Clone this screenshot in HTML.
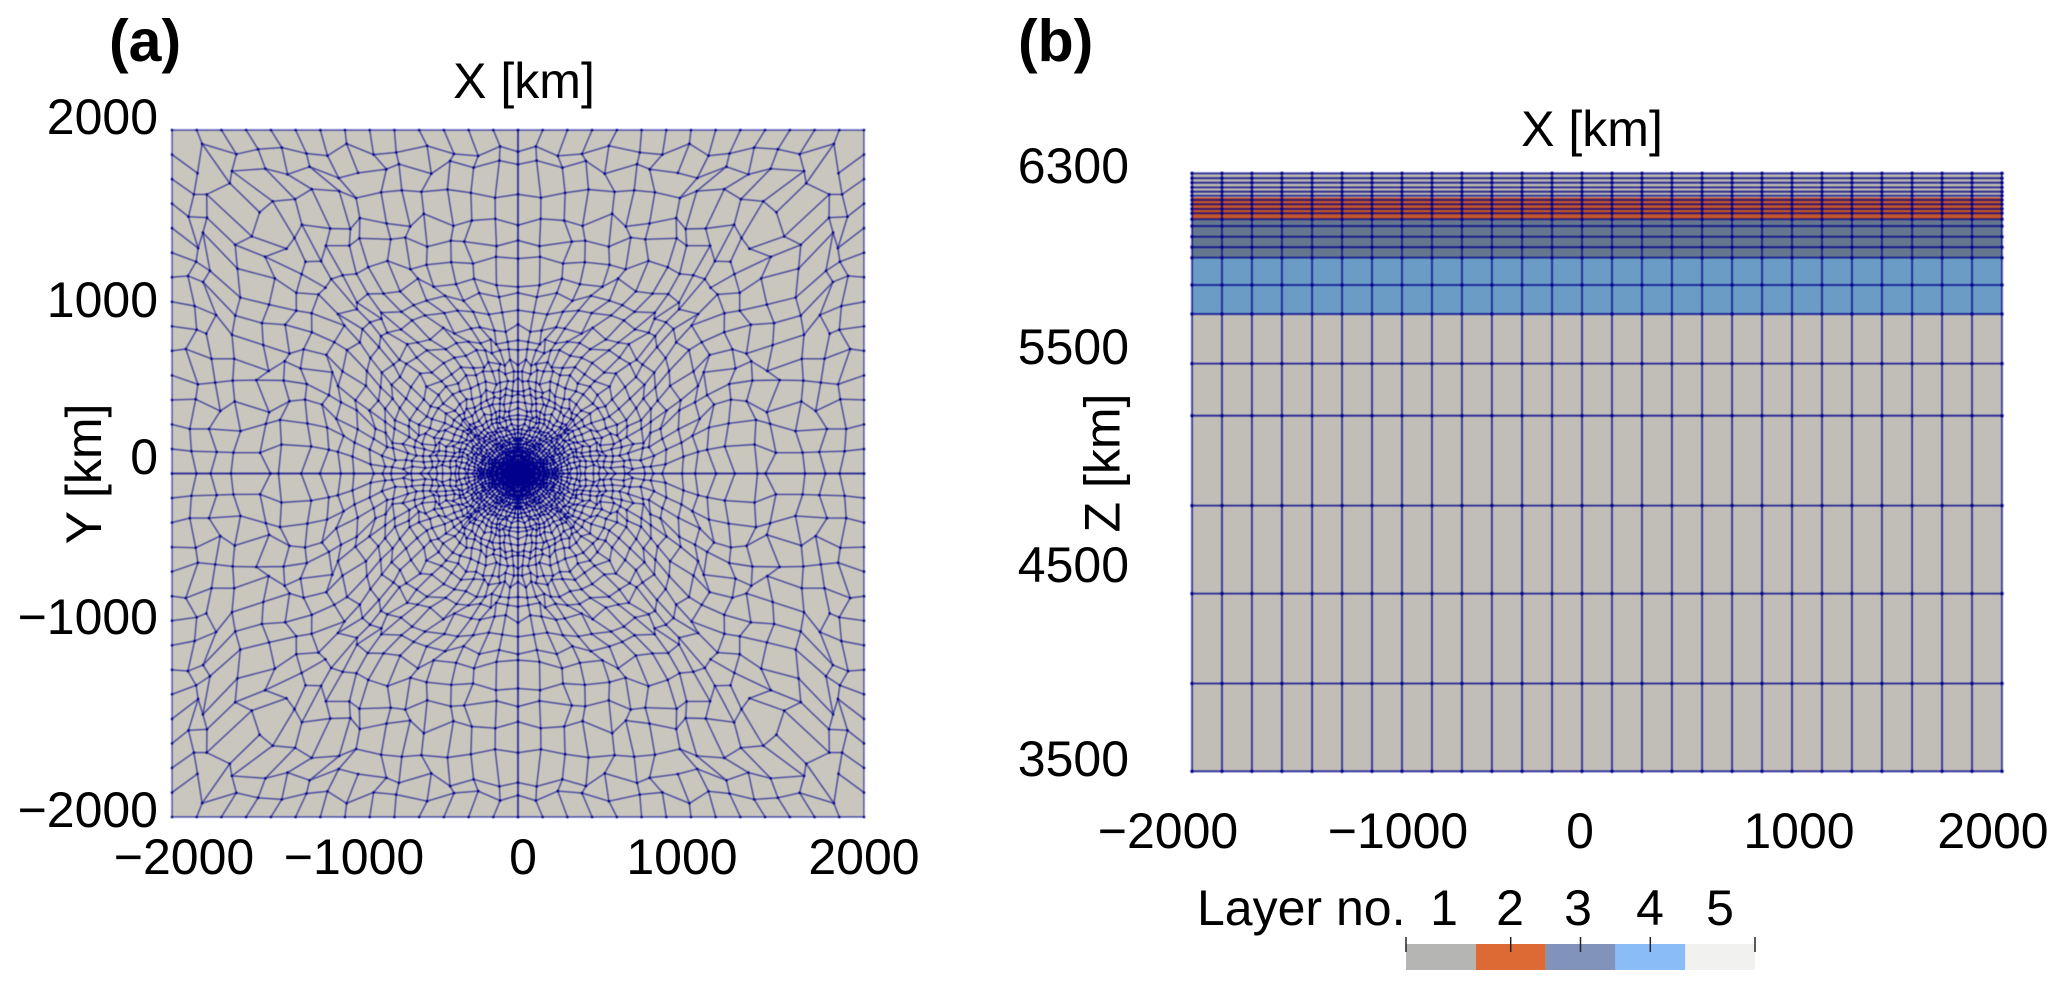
<!DOCTYPE html>
<html lang="en">
<head>
<meta charset="utf-8">
<title>Mesh panels</title>
<style>
html,body{margin:0;padding:0;background:#fff;width:2067px;height:988px;overflow:hidden}
svg{display:block}
text{font-family:"Liberation Sans",Arial,sans-serif;font-size:50px;fill:#000}
.bold{font-weight:bold;font-size:59px}
</style>
</head>
<body>
<svg id="figure" width="2067" height="988" viewBox="0 0 2067 988" xmlns="http://www.w3.org/2000/svg">
  <defs><filter id="soft" x="-2%" y="-2%" width="104%" height="104%"><feGaussianBlur stdDeviation="0.45"/></filter></defs>

  <g>
    <text class="bold" x="109" y="61">(a)</text>
    <text x="524" y="98" text-anchor="middle">X [km]</text>
    <text transform="translate(101,474) rotate(-90)" text-anchor="middle">Y [km]</text>
    <rect x="172" y="130" width="692" height="687" fill="#c9c7bd"/>
    <g id="meshA" filter="url(#soft)"></g>
    <g text-anchor="end">
      <text x="158" y="134">2000</text>
      <text x="158" y="317">1000</text>
      <text x="158" y="474">0</text>
      <text x="158" y="634">−1000</text>
      <text x="158" y="827">−2000</text>
    </g>
    <g text-anchor="middle">
      <text x="184" y="874">−2000</text>
      <text x="354" y="874">−1000</text>
      <text x="523" y="874">0</text>
      <text x="682" y="874">1000</text>
      <text x="864" y="874">2000</text>
    </g>
  </g>

  <g>
    <text class="bold" x="1018" y="61">(b)</text>
    <text x="1592" y="146" text-anchor="middle">X [km]</text>
    <text transform="translate(1119.5,463) rotate(-90)" text-anchor="middle">Z [km]</text>
    <g id="bandsB"></g>
    <g id="meshB" filter="url(#soft)"></g>
    <g text-anchor="end">
      <text x="1129" y="183">6300</text>
      <text x="1129" y="364">5500</text>
      <text x="1129" y="582">4500</text>
      <text x="1129" y="776">3500</text>
    </g>
    <g text-anchor="middle">
      <text x="1168" y="848">−2000</text>
      <text x="1398" y="848">−1000</text>
      <text x="1580" y="848">0</text>
      <text x="1799" y="848">1000</text>
      <text x="1993" y="848">2000</text>
    </g>
    <g>
      <text x="1197" y="925">Layer no.</text>
      <g text-anchor="middle">
        <text x="1444" y="925">1</text>
        <text x="1510" y="925">2</text>
        <text x="1578" y="925">3</text>
        <text x="1650" y="925">4</text>
        <text x="1720" y="925">5</text>
      </g>
      <g id="legendBar"></g>
    </g>
  </g>
</svg>

<script>
// Panel (a): mesh rings (km from the centre)
const ringRadiiKm = [6,13,20,28,36,45,54,64,74,85,97,110,124,139,155,172,190,210,232,256,282,310,340,373,409,448,491,538,590,646,708,775,850,932,1022,1120,1228,1345,1475,1615,1770,1890,2000];
// Number of cells per quadrant on each ring
const ringCellCounts = [3,5,7,9,11,12,13,14,15,16,17,18,19,20,20,20,20,20,20,20,20,20,20,20,20,20,20,20,20,20,20,20,20,20,20,20,21,22,23,24,26,27,28];
// Slow lateral drift of the cell rows, in cells, per ring
const ringDrift = [0,0,0.1,0.2,0.3,0.4,0.5,0.6,0.5,0.3,0.1,-0.2,-0.5,-0.8,-0.9,-0.7,-0.4,-0.1,0.2,0.5,0.8,1,0.9,0.6,0.2,-0.2,-0.6,-0.9,-1.1,-1.1,-0.8,-0.4,0,0.4,0.8,1.1,1.1,0.8,0.4,0.2,0.1,0,0];
// Irregular node displacement, as a fraction of local cell size
const nodeWobble = [0.42,-0.31,0.12,-0.55,0.27,0.61,-0.18,-0.44,0.35,0.05,-0.62,0.48,-0.09,0.22,-0.37,0.57,-0.25,0.16,0.39,-0.51,0.08,-0.14,0.53,-0.33,0.29,-0.47,0.19,0.44,-0.03,-0.58,0.33,0.11,-0.23,0.5,-0.41,0.02,0.25,-0.6,0.37,-0.12,0.46,-0.29,0.14,-0.5,0.59];

// Panel (b): layer-boundary depths in km, top to bottom
const meshDepthsKm = [6300,6277,6256,6234,6214,6195,6175,6155,6133,6113,6085,6053,6003,5954,5905,5777,5641,5409,5165,4744,4332,3911,3500];
const columnEdgesKm = [-2000,-1852,-1704,-1556,-1407,-1259,-1111,-963,-815,-667,-519,-370,-222,-74,74,222,370,519,667,815,963,1111,1259,1407,1556,1704,1852,2000];
// Layer band boundaries in km, top to bottom
const layerBoundsKm = [6300,6187,6085,5905,5641,3500];

// Legend
const layerNumbers = [1,2,3,4,5];
const legendTickValues = [0.5,2,3,4,5.5];

const bandColors = ['#b9b6ae','#c2552a','#65778e','#6a9cc5','#c1beb7'];
const legendColors = ['#b5b5b3','#dd6a35','#8192bb','#8abcf8','#f1f1f0'];
const SVGNS = 'http://www.w3.org/2000/svg';

// Axis functions
const ax = v => 172 + (v + 2000) / 4000 * 692;
const ay = v => 130 + (2000 - v) / 4000 * 687;
const bx = v => 1192 + (v + 2000) / 4000 * 810;
const bz = v => 173.3 + (6300 - v) / 2800 * 598;
const lx = v => 1406 + (v - 0.5) / 5 * 349;

function ringNode(i, j) {
  const n = ringCellCounts[i];
  const last = i === ringRadiiKm.length - 1;
  const L = nodeWobble.length;
  const R = ringDrift.length;
  const prev = i > 0 ? ringRadiiKm[i - 1] : 0;
  const dr = ringRadiiKm[i] - prev;
  const r = ringRadiiKm[i] + (last ? 0 : nodeWobble[(i * 5 + j * 3) % L] * dr * 0.55);
  const f = ringRadiiKm[i] / 2000;
  const t0 = j / n;
  let shift = 0;
  if (!last && j > 0 && j < n) {
    shift = nodeWobble[(i * 7 + j * 11) % L] * 0.42
      + ringDrift[i] * Math.sin(2 * Math.PI * t0)
      + ringDrift[(i + 13) % R] * 0.3 * Math.sin(6 * Math.PI * t0);
  }
  const t = t0 + shift / n;
  const polar = t * Math.PI / 2;
  const square = t < 0.5 ? Math.atan(2 * t) : Math.PI / 2 - Math.atan(2 * (1 - t));
  const blend = f * f;
  const th = polar * (1 - blend) + square * blend;
  const c = Math.abs(Math.cos(th)), s = Math.abs(Math.sin(th));
  const D = 0.89 + (Math.SQRT2 - 0.89) * Math.pow(f, 0.8);
  const invK = 0.5 - Math.log2(D);
  let rho;
  if (invK < 0.003) {
    rho = r / Math.max(c, s);
  } else {
    const k = 1 / invK;
    rho = r / Math.pow(Math.pow(c, k) + Math.pow(s, k), 1 / k);
  }
  // the dense core is wider along X than along Y
  const stretch = 1 + 0.3 * Math.pow(1 - f, 8);
  return [rho * c * stretch, rho * s];
}

const rings = ringRadiiKm.map((_, i) => {
  const nodes = [];
  for (let j = 0; j <= ringCellCounts[i]; j++) nodes.push(ringNode(i, j));
  return nodes;
});

function quadrantPath(sx, sy) {
  const P = p => ax(sx * p[0]).toFixed(1) + ' ' + ay(sy * p[1]).toFixed(1);
  let d = '';
  rings.forEach((nodes, i) => {
    d += 'M' + nodes.map(P).join('L');
    if (i + 1 < rings.length) {
      const outer = rings[i + 1];
      const a = nodes.length <= outer.length ? nodes : outer;
      const b = nodes.length <= outer.length ? outer : nodes;
      a.forEach((p, j) => {
        const q = b[Math.round(j / (a.length - 1) * (b.length - 1))];
        d += 'M' + P(p) + 'L' + P(q);
      });
    }
  });
  return d;
}

function quadrantNodes(sx, sy) {
  const P = p => ax(sx * p[0]).toFixed(1) + ' ' + ay(sy * p[1]).toFixed(1);
  let d = '';
  rings.forEach(nodes => {
    nodes.forEach(p => { d += 'M' + P(p) + 'h0'; });
  });
  return d;
}

const meshA = document.getElementById('meshA');
[[1,1,'ne'],[-1,1,'nw'],[-1,-1,'sw'],[1,-1,'se']].forEach(q => {
  const path = document.createElementNS(SVGNS, 'path');
  path.setAttribute('d', quadrantPath(q[0], q[1]));
  path.setAttribute('fill', 'none');
  path.setAttribute('stroke', '#00008c');
  path.setAttribute('stroke-opacity', '0.66');
  path.setAttribute('stroke-width', '1.4');
  
  
  meshA.appendChild(path);
  const dots = document.createElementNS(SVGNS, 'path');
  dots.setAttribute('d', quadrantNodes(q[0], q[1]));
  dots.setAttribute('fill', 'none');
  dots.setAttribute('stroke', '#00008c');
  dots.setAttribute('stroke-linecap', 'round');
  dots.setAttribute('stroke-width', '2.6');
  
  
  meshA.appendChild(dots);
});

// Panel (b) bands
const bandsB = document.getElementById('bandsB');
bandColors.forEach((color, i) => {
  const rect = document.createElementNS(SVGNS, 'rect');
  rect.setAttribute('x', bx(-2000));
  rect.setAttribute('y', bz(layerBoundsKm[i]));
  rect.setAttribute('width', bx(2000) - bx(-2000));
  rect.setAttribute('height', bz(layerBoundsKm[i + 1]) - bz(layerBoundsKm[i]));
  rect.setAttribute('fill', color);
  
  
  bandsB.appendChild(rect);
});

// Panel (b) mesh
const meshB = document.getElementById('meshB');
meshDepthsKm.forEach(z => {
  const line = document.createElementNS(SVGNS, 'line');
  line.setAttribute('x1', bx(-2000));
  line.setAttribute('x2', bx(2000));
  line.setAttribute('y1', bz(z));
  line.setAttribute('y2', bz(z));
  line.setAttribute('stroke', '#00008c');
  line.setAttribute('stroke-opacity', '0.8');
  line.setAttribute('stroke-width', '1.8');
  
  
  meshB.appendChild(line);
});
columnEdgesKm.forEach(x => {
  const line = document.createElementNS(SVGNS, 'line');
  line.setAttribute('x1', bx(x));
  line.setAttribute('x2', bx(x));
  line.setAttribute('y1', bz(6300));
  line.setAttribute('y2', bz(3500));
  line.setAttribute('stroke', '#00008c');
  line.setAttribute('stroke-opacity', '0.75');
  line.setAttribute('stroke-width', '1.8');
  
  
  meshB.appendChild(line);
});
let nodeD = '';
meshDepthsKm.forEach(z => {
  columnEdgesKm.forEach(x => {
    nodeD += 'M' + bx(x).toFixed(1) + ' ' + bz(z).toFixed(1) + 'h0';
  });
});
const bNodes = document.createElementNS(SVGNS, 'path');
bNodes.setAttribute('d', nodeD);
bNodes.setAttribute('fill', 'none');
bNodes.setAttribute('stroke', '#00008c');
bNodes.setAttribute('stroke-linecap', 'round');
bNodes.setAttribute('stroke-width', '3.4');


meshB.appendChild(bNodes);

// Legend colorbar
const legendBar = document.getElementById('legendBar');
layerNumbers.forEach((n, i) => {
  const rect = document.createElementNS(SVGNS, 'rect');
  rect.setAttribute('x', lx(n - 0.5));
  rect.setAttribute('y', 944);
  rect.setAttribute('width', lx(n + 0.5) - lx(n - 0.5));
  rect.setAttribute('height', 26);
  rect.setAttribute('fill', legendColors[i]);
  
  
  legendBar.appendChild(rect);
});
legendTickValues.forEach(v => {
  const tick = document.createElementNS(SVGNS, 'line');
  tick.setAttribute('x1', lx(v));
  tick.setAttribute('x2', lx(v));
  tick.setAttribute('y1', 937);
  tick.setAttribute('y2', 952);
  tick.setAttribute('stroke', '#222');
  tick.setAttribute('stroke-width', '1.5');
  
  
  legendBar.appendChild(tick);
});
</script>
</body>
</html>
